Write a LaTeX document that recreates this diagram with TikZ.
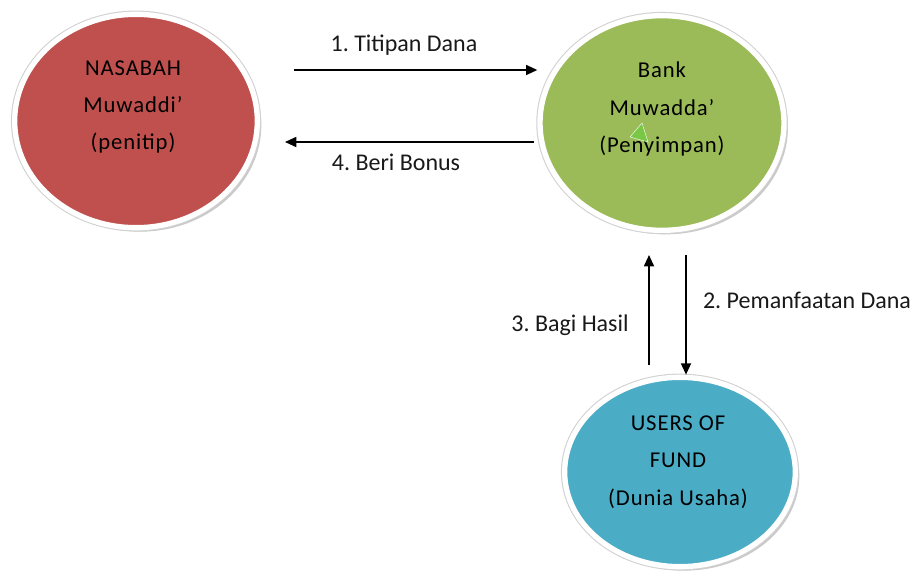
\documentclass[tikz,border=0pt]{standalone}
\usepackage{fontspec}
\setmainfont{Carlito}
\newfontfamily\nodefont[LetterSpace=4]{Carlito}
\usepackage{tikz}
\usetikzlibrary{shapes.geometric,shadows,arrows.meta,positioning}
\frenchspacing

\definecolor{nasabahred}{HTML}{C0504D}
\definecolor{bankgreen}{HTML}{9BBB59}
\definecolor{usersblue}{HTML}{4BACC6}
\definecolor{tickgreen}{RGB}{120,200,70}

\begin{document}
\begin{tikzpicture}[x=0.75pt,y=-0.75pt,
  party/.style={ellipse, draw=white, line width=4pt, inner sep=0pt,
    drop shadow={shadow xshift=3pt, shadow yshift=-3pt, opacity=.35, fill=black!60},
    preaction={draw=black!18, line width=5.6pt}},
  partytext/.style={align=center, font=\nodefont\fontsize{17}{28}\selectfont, text=black},
  flow/.style={line width=1.3pt, -{Triangle[length=8.5pt,width=7.5pt]}},
  flowlabel/.style={font=\fontsize{18}{21}\selectfont, text=black!90}]

\useasboundingbox (0,0) rectangle (915,578);

% the three parties
\node [party, fill=nasabahred, minimum width=182pt, minimum height=160pt] (nasabah) at (136,121) {};
\node [party, fill=bankgreen, minimum width=183pt, minimum height=161pt] (bank) at (662,123) {};
\node [party, fill=usersblue, minimum width=173pt, minimum height=142pt] (users) at (680,472) {};

\node [partytext] (nasabahtext) at (133,107) {NASABAH\\Muwaddi’\\(penitip)};
\node [partytext] (banktext) at (662,109) {Bank\\Muwadda’\\(Penyimpan)};
\node [partytext] (userstext) at (678,462) {USERS OF\\FUND\\(Dunia Usaha)};

\fill [tickgreen, draw=white, line width=.3pt] (630,137) -- (642,123) -- (648,142) -- cycle;

% flows
\coordinate (titipstart) at ([shift={(34,-51)}]nasabah.east);
\coordinate (bonusstart) at ([shift={(-3,19)}]bank.west);
\coordinate (bonusend) at ([shift={(25,21)}]nasabah.east);
\coordinate (danastart) at ([shift={(24,22)}]bank.south);
\coordinate (hasilstart) at ([shift={(-31,-10)}]users.north);

\draw [flow] (titipstart) -- (titipstart -| bank.west);
\draw [flow] (bonusstart) -- (bonusstart -| bonusend);
\draw [flow] (danastart) -- (danastart |- users.north);
\draw [flow] (hasilstart) -- (hasilstart |- danastart);

\node [flowlabel] (titiplabel) at (404,45) {1. Titipan Dana};
\node [flowlabel] (bonuslabel) at (396,162) {4. Beri Bonus};
\node [flowlabel] (danalabel) at (807,300) {2. Pemanfaatan Dana};
\node [flowlabel] (hasillabel) at (570,325) {3. Bagi Hasil};

\end{tikzpicture}
\end{document}
